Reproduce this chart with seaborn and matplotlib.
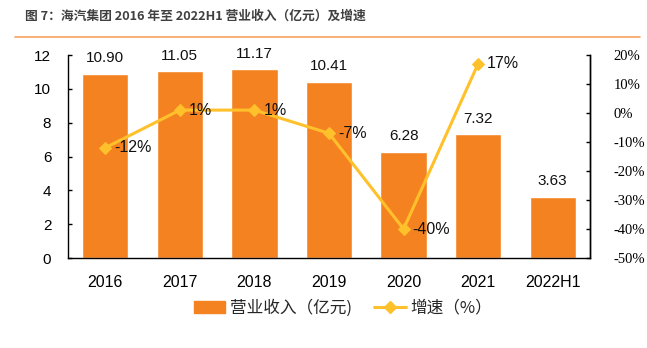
import matplotlib
matplotlib.use("Agg")
import matplotlib.pyplot as plt
import seaborn as sns
import pandas as pd
import numpy as np
from matplotlib.lines import Line2D
from matplotlib.patches import Patch

categories = ["2016", "2017", "2018", "2019", "2020", "2021", "2022H1"]
revenue = [10.90, 11.05, 11.17, 10.41, 6.28, 7.32, 3.63]
growth = [-12, 1, 1, -7, -40, 17]
growth_labels = ["-12%", "1%", "1%", "-7%", "-40%", "17%"]
right_ticks = [20, 10, 0, -10, -20, -30, -40, -50]
right_tick_labels = ["20%", "10%", "0%", "-10%", "-20%", "-30%", "-40%", "-50%"]

sns.set_theme(style="white")
plt.rcParams["font.family"] = ["Liberation Sans", "Noto Sans CJK SC", "DejaVu Sans"]

bar_color = "#F58220"
line_color = "#FFC12B"

fig = plt.figure(figsize=(6.47, 3.48), dpi=100)
ax = fig.add_axes([68/647, 1-258/348, (590-68)/647, (258-55)/348])

df = pd.DataFrame({"cat": categories, "rev": revenue})
sns.barplot(data=df, x="cat", y="rev", color=bar_color, saturation=1, width=0.62, ax=ax)
ax.set_xlim(-0.5, 6.5)
ax.set_ylim(0, 12)
ax.set_yticks(range(0, 13, 2))
ax.set_xlabel("")
ax.set_ylabel("")
for i, v in enumerate(revenue):
    ax.text(i, v + 0.5, f"{v:.2f}", ha="center", va="bottom", fontsize=11, color="#111111")

for s in ["left", "bottom", "right"]:
    ax.spines[s].set_visible(True)
    ax.spines[s].set_color("black")
    ax.spines[s].set_linewidth(1.0)
ax.spines["top"].set_visible(False)
ax.tick_params(axis="y", direction="in", length=3, width=1, left=True, labelsize=11, pad=12, colors="black")
ax.tick_params(axis="x", bottom=False, labelsize=11.5, pad=6, colors="black")

ax2 = ax.twinx()
gdf = pd.DataFrame({"cat": list(range(len(growth))), "g": growth})
sns.lineplot(data=gdf, x="cat", y="g", ax=ax2, color=line_color, linewidth=2.2,
             marker="D", markersize=6, markeredgecolor=line_color)
ax2.set_ylim(-50, 20)
ax2.set_xlim(-0.5, 6.5)
ax2.set_yticks(right_ticks)
ax2.set_yticklabels(right_tick_labels, family="Liberation Serif")
ax2.set_xlabel("")
ax2.set_ylabel("")
ax2.tick_params(axis="y", direction="in", length=3, width=1, right=True, labelsize=10.5, pad=17, colors="black")
for s in ["left", "bottom", "top"]:
    ax2.spines[s].set_visible(False)
ax2.spines["right"].set_color("black")
ax2.spines["right"].set_linewidth(1.0)
for i, (g, lab) in enumerate(zip(growth, growth_labels)):
    ax2.text(i + 0.12, g, lab, ha="left", va="center", fontsize=11.5, color="#111111")

# title
fig.text(25/647, 1-16/348, "图 7：海汽集团 2016 年至 2022H1 营业收入（亿元）及增速", fontsize=9.2,
         fontweight="bold", color="#404040", va="center", ha="left",
         family=["Noto Sans CJK SC", "DejaVu Sans"])
fig.add_artist(Line2D([15/647, 640/647], [1-37/348, 1-37/348], color="#F7A35C", linewidth=1.2))

handles = [Patch(facecolor=bar_color, edgecolor=bar_color),
           Line2D([0], [0], color=line_color, linewidth=2.2, marker="D", markersize=6)]
fig.legend(handles, ["营业收入（亿元)", "增速（%）"], loc="center", bbox_to_anchor=(343/647, 1-308/348),
           ncol=2, frameon=False, handlelength=1.9, handletextpad=0.3, columnspacing=1.3,
           prop={"family": ["Noto Sans CJK SC", "DejaVu Sans"], "size": 12})

fig.savefig("out.png", dpi=100)
